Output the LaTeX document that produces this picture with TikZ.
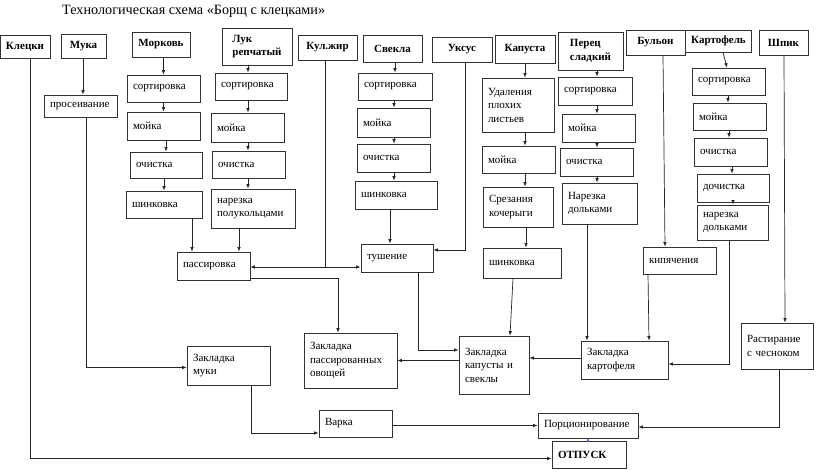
\documentclass[tikz,border=0pt]{standalone}
\usepackage{fontspec}
\setmainfont{Liberation Serif}
\usetikzlibrary{arrows.meta,calc}
\tikzset{
  boxst/.style={draw=black!80, line width=0.8pt, inner xsep=6pt, inner ysep=2pt, align=left,
    font=\fontsize{11}{13.5}\selectfont},
  hdst/.style={boxst, font=\fontsize{11}{13.5}\bfseries\selectfont},
  arr/.style={draw=black!85, line width=0.7pt, -{Latex[length=4.5pt,width=3.6pt]}},
  bluearr/.style={draw=blue!60, line width=0.8pt, -{Latex[length=2.5pt,width=3pt]}},
}
\newcommand\bx[7][]{%
  \pgfmathsetmacro\bxw{#5-#3}%
  \pgfmathsetmacro\bxh{#6-#4}%
  \pgfmathsetmacro\bxcx{(#3+#5)/2}%
  \pgfmathsetmacro\bxcy{(#4+#6)/2}%
  \pgfmathsetmacro\bxtw{#5-#3-12}%
  \node[boxst,minimum width=\bxw pt,minimum height=\bxh pt,text width=\bxtw pt,#1] (#2) at (\bxcx,\bxcy) {#7};}
\newcommand\hx[7][]{%
  \pgfmathsetmacro\bxw{#5-#3}%
  \pgfmathsetmacro\bxh{#6-#4}%
  \pgfmathsetmacro\bxcx{(#3+#5)/2}%
  \pgfmathsetmacro\bxcy{(#4+#6)/2}%
  \node[hdst,minimum width=\bxw pt,minimum height=\bxh pt,#1] (#2) at (\bxcx,\bxcy) {#7};}
\begin{document}
\begin{tikzpicture}[x=1pt,y=-1pt]
\fill[white] (0,0) rectangle (816,471);
\useasboundingbox (0,0) rectangle (816,471);
\node[anchor=west, inner sep=0pt, font=\fontsize{14.2}{16}\selectfont] (title) at (62,11) {Технологическая схема «Борщ с клецками»};
% headers
\hx{kl}{3}{35}{47}{58}{Клецки}
\hx{muka}{61}{34}{106}{58}{Мука}
\hx{mork}{132}{32}{190}{57}{Морковь}
\hx{luk}{222}{28}{292}{65}{Лук\\репчатый}
\hx{zhir}{298}{35}{357}{60}{Кул.жир}
\hx{svek}{363}{35}{422}{62}{Свекла}
\hx{uks}{432}{37}{492}{62}{Уксус}
\hx{kap}{495}{35}{555}{63}{Капуста}
\hx{per}{558}{32}{623}{70}{Перец\\сладкий}
\hx{bul}{626}{30}{685}{55}{Бульон}
\hx{kart}{687}{30}{750}{52}{Картофель}
\hx{shp}{759}{30}{808}{55}{Шпик}
% steps
\bx{pros}{44}{95}{117}{117}{просеивание}
\bx{m1}{127}{75}{200}{102}{сортировка}
\bx{m2}{127}{112}{200}{140}{мойка}
\bx{m3}{130}{152}{202}{178}{очистка}
\bx{m4}{126}{191}{202}{218}{шинковка}
\bx{l1}{215}{73}{287}{100}{сортировка}
\bx{l2}{211}{113}{284}{142}{мойка}
\bx{l3}{212}{151}{285}{178}{очистка}
\bx{l4}{211}{189}{295}{228}{нарезка\\полукольцами}
\bx{s1}{358}{73}{432}{100}{сортировка}
\bx{s2}{357}{108}{430}{137}{мойка}
\bx{s3}{357}{144}{430}{172}{очистка}
\bx{s4}{355}{181}{437}{209}{шинковка}
\bx{k1}{482}{78}{554}{132}{Удаления\\плохих\\листьев}
\bx{k2}{482}{146}{555}{173}{мойка}
\bx{k3}{483}{187}{553}{227}{Срезания\\кочерыги}
\bx{k4}{483}{248}{561}{278}{шинковка}
\bx{p1}{558}{77}{632}{105}{сортировка}
\bx{p2}{562}{114}{635}{142}{мойка}
\bx{p3}{560}{148}{633}{176}{очистка}
\bx{p4}{562}{183}{637}{224}{Нарезка\\дольками}
\bx{c1}{692}{68}{765}{95}{сортировка}
\bx{c2}{693}{103}{766}{130}{мойка}
\bx{c3}{694}{138}{767}{166}{очистка}
\bx{c4}{697}{174}{769}{202}{дочистка}
\bx{c5}{697}{205}{768}{240}{нарезка\\дольками}
\bx{kip}{643}{247}{716}{274}{кипячения}
% middle / bottom
\bx{pass}{177}{252}{250}{280}{пассировка}
\bx{tush}{361}{244}{433}{272}{тушение}
\bx{zpass}{304}{333}{397}{388}{Закладка\\пассированных\\овощей}
\bx{zmuk}{187}{346}{270}{385}{Закладка\\муки}
\bx{zkap}{459}{336}{529}{394}{Закладка\\капусты и\\свеклы}
\bx{zkart}{581}{341}{668}{379}{Закладка\\картофеля}
\bx[inner xsep=5pt]{rast}{741}{323}{813}{369}{Растирание\\с чесноком}
\bx{varka}{319}{410}{392}{437}{Варка}
\bx{porc}{538}{413}{638}{438}{Порционирование}
\bx[font=\fontsize{11}{13.5}\bfseries\selectfont]{otp}{552}{441}{626}{468}{ОТПУСК}
% chains
\draw[arr] (muka.south -| 83,0) -- (pros.north -| 83,0);
\draw[arr] (m1.north |- mork.south) -- (m1.north);
\draw[arr] (m2.north |- m1.south) -- (m2.north);
\draw[arr] (m3.north |- m2.south) -- (m3.north);
\draw[arr] (m4.north |- m3.south) -- (m4.north);
\draw[arr] (luk.south -| 248,0) -- (l1.north -| 248,0);
\draw[arr] (l1.south -| 248,0) -- (l2.north -| 248,0);
\draw[arr] (l2.south -| 248,0) -- (l3.north -| 248,0);
\draw[arr] (l3.south -| 248,0) -- (l4.north -| 248,0);
\draw[arr] (s1.north |- svek.south) -- (s1.north);
\draw[arr] (s1.south -| 394,0) -- (s2.north -| 394,0);
\draw[arr] (s2.south -| 394,0) -- (s3.north -| 394,0);
\draw[arr] (s3.south -| 394,0) -- (s4.north -| 394,0);
\draw[arr] (kap.south -| 525,0) -- (k1.north -| 525,0);
\draw[arr] (k1.south -| 525,0) -- (k2.north -| 525,0);
\draw[arr] (k2.south -| 525,0) -- (k3.north -| 525,0);
\draw[arr] (k3.south -| 526,0) -- (k4.north -| 526,0);
\draw[arr] (per.south -| 597,0) -- (p1.north -| 597,0);
\draw[arr] (p1.south -| 597,0) -- (p2.north -| 597,0);
\draw[arr] (p2.south -| 597,0) -- (p3.north -| 597,0);
\draw[arr] (p3.south -| 597,0) -- (p4.north -| 597,0);
\draw[arr] (kart.south -| 723,0) -- (c1.north -| 727,0);
\draw[arr] (c1.south -| 728,0) -- (c2.north -| 728,0);
\draw[arr] (c2.south -| 729,0) -- (c3.north -| 729,0);
\draw[arr] (c3.south -| 732,0) -- (c4.north -| 732,0);
\draw[arr] (c4.south -| 733,0) -- (c5.north -| 733,0);
\draw[arr] (bul.south -| 663,0) -- (kip.north -| 665,0);
% to middle
\draw[arr] (kl.south -| 30,0) |- ([yshift=-4pt]otp.west);
\draw[arr] (pros.south -| 86,0) |- ([yshift=-2pt]zmuk.west);
\draw[arr] (m4.south -| 192,0) -- (pass.north -| 192,0);
\draw[arr] (l4.south -| 239,0) -- (pass.north -| 239,0);
\coordinate (zj) at (325,267);
\draw[arr] (zhir.south -| 325,0) |- (pass.east |- zj);
\draw[arr] (zj) -- (tush.west |- zj);
\draw[arr] (uks.south -| 465,0) |- ([yshift=8pt]tush.east);
\draw[arr] (s4.south -| 390,0) -- (tush.north -| 390,0);
\draw[arr] ([yshift=2pt]pass.south east) -| (zpass.north -| 338,0);
\draw[arr] (tush.south -| 418,0) |- ([yshift=15pt]zkap.west);
\draw[arr] (zkap.west |- zpass.east) -- (zpass.east);
\draw[arr] (k4.south -| 513,0) -- (zkap.north -| 510,0);
\draw[arr] ([yshift=2pt]zkart.west) -- ([yshift=2pt]zkart.west -| zkap.east);
\draw[arr] (p4.south -| 587,0) -- (zkart.north -| 587,0);
\draw[arr] (kip.south -| 648,0) -- (zkart.north -| 649,0);
\draw[arr] (c5.south -| 729,0) |- ([yshift=-4pt]zkart.east);
\draw[arr] (shp.south -| 784,0) -- (rast.north -| 785,0);
\draw[arr] (rast.south -| 779,0) |- ([yshift=-1.5pt]porc.east);
\draw[arr] (zmuk.south -| 251,0) |- ([yshift=-9.5pt]varka.west);
\draw[arr] (porc.west -| varka.east) -- (porc.west);
\draw[bluearr] (otp.north -| 588,0) -- (porc.south -| 588,0);
\end{tikzpicture}
\end{document}
